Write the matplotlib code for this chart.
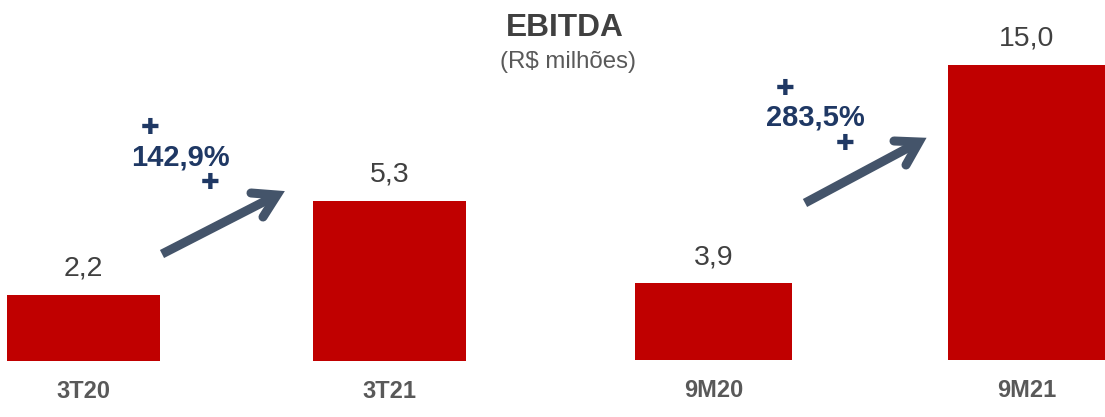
import matplotlib
matplotlib.use("Agg")
import matplotlib.pyplot as plt

plt.rcParams['font.family'] = ['Liberation Sans', 'DejaVu Sans']

W, H = 1105, 417

labels_3t = ['3T20', '3T21']
values_3t = [2.2, 5.3]
labels_9m = ['9M20', '9M21']
values_9m = [3.9, 15.0]

RED = '#c00000'
GREY = '#404040'
NAVY = '#1f3864'
ARROW = '#44546a'


def fmt(v):
    return f'{v:.1f}'.replace('.', ',')


def draw_panel(fig, left, right, baseline, px_per_unit, labels, values):
    ax = fig.add_axes([left / W, 1 - baseline / H, (right - left) / W, baseline / H])
    ax.bar([0, 1], values, width=0.5, color=RED)
    ax.set_xlim(-0.25, 1.25)
    ax.set_ylim(0, baseline / px_per_unit)
    ax.set_yticks([])
    ax.set_xticks([0, 1], labels)
    ax.tick_params(axis='x', length=0, pad=13.5, labelsize=17, labelcolor='#595959')
    for t in ax.get_xticklabels():
        t.set_fontweight('bold')
    for s in ax.spines.values():
        s.set_visible(False)
    ax.patch.set_alpha(0)
    for i, v in enumerate(values):
        ax.annotate(fmt(v), (i, v), xytext=(0, 9.5), textcoords='offset points',
                    ha='center', va='bottom', fontsize=20.5, color=GREY)
    return ax


def draw_arrow(ov, tail, tip, barb1, barb2):
    ov.plot([tail[0], tip[0]], [tail[1], tip[1]], color=ARROW, lw=6.5, solid_capstyle='butt')
    ov.plot([barb1[0], tip[0], barb2[0]], [barb1[1], tip[1], barb2[1]], color=ARROW, lw=6.5,
            solid_capstyle='round', solid_joinstyle='miter')


fig = plt.figure(figsize=(W / 100, H / 100), dpi=100)

draw_panel(fig, 7, 466, 361, 30.2, labels_3t, values_3t)
draw_panel(fig, 635, 1105, 360, 19.67, labels_9m, values_9m)

# overlay in pixel coordinates for the title and callouts
ov = fig.add_axes([0, 0, 1, 1])
ov.set_xlim(0, W)
ov.set_ylim(H, 0)
ov.axis('off')

ov.text(565, 28, 'EBITDA', ha='center', va='center', fontsize=22.8, fontweight='bold', color=GREY)
ov.text(568, 62, '(R$ milhões)', ha='center', va='center', fontsize=17.3, color='#595959')

ov.text(180, 157, '142,9%', ha='center', va='center', fontsize=21, fontweight='bold', color=NAVY)
ov.text(815, 117, '283,5%', ha='center', va='center', fontsize=21, fontweight='bold', color=NAVY)

for x, y in [(150, 128), (210, 183), (785, 89), (845, 144)]:
    ov.text(x, y, '\u271a', ha='center', va='center', fontsize=16, color=NAVY,
            family=['DejaVu Sans'])

draw_arrow(ov, (162, 254), (277, 195), (251, 193), (263, 217))
draw_arrow(ov, (805, 203), (919, 142), (894, 141), (906, 165))

fig.savefig('out.png', dpi=100)
